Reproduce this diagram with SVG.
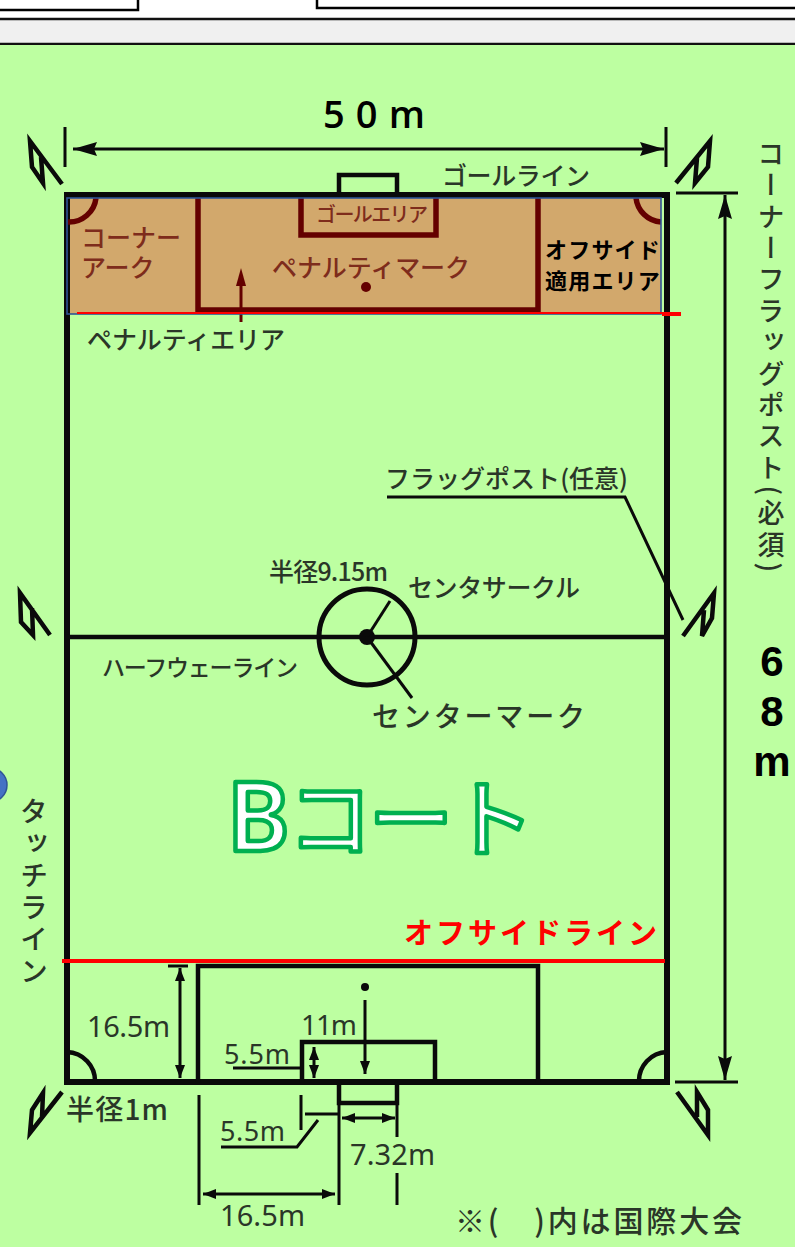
<svg xmlns="http://www.w3.org/2000/svg" width="795" height="1247" viewBox="0 0 795 1247">
<style>
text{font-family:"Noto Sans CJK JP","Noto Sans",sans-serif;fill:#2a3628;font-size:25px;font-weight:500}
.latin{font-family:"Noto Sans","Noto Sans CJK JP",sans-serif;font-weight:400}
.heavy{font-family:"Open Sans","Noto Sans CJK JP",sans-serif;font-weight:600;fill:#000}
.num{font-family:"Liberation Sans",sans-serif;font-weight:700;fill:#000;font-size:42px}
.brown{fill:#7e2c1c}
.tight{font-family:"Liberation Sans","Noto Sans CJK JP",sans-serif}
.off{font-weight:700;fill:#000;font-size:22px;letter-spacing:1.2px}
.red{font-weight:700;fill:#f00;font-size:29px}
.big{fill:#fff;stroke:#00b050;stroke-width:4.5;stroke-linejoin:round}
.v{writing-mode:vertical-rl}
.k{fill:none;stroke:#0a0a0a;stroke-linecap:butt;stroke-linejoin:miter}
.f{stroke-width:6}.m{stroke-width:4.5}.t{stroke-width:3}
.d{fill:none;stroke:#640000;stroke-width:5.5}
</style>
<defs>
<marker id="big" markerUnits="userSpaceOnUse" markerWidth="26" markerHeight="18" refX="24" refY="9" orient="auto-start-reverse"><path d="M0 2L24 9L0 16L3 9Z" fill="#0a0a0a"/></marker>
<marker id="tiny" markerUnits="userSpaceOnUse" markerWidth="14" markerHeight="12" refX="13" refY="6" orient="auto-start-reverse"><path d="M0 1L13 6L0 11Z" fill="#0a0a0a"/></marker>
</defs>

<rect id="page" width="795" height="1247" fill="#fff"/>
<g id="header">
<path d="M0 10H138V0" fill="none" stroke="#000" stroke-width="2.5"/>
<path d="M317 0V8H795" fill="none" stroke="#000" stroke-width="2.5"/>
<rect y="19" width="795" height="25" fill="#f0f0f0"/>
<path d="M0 19H795M0 44H795" stroke="#111" stroke-width="2.4"/>
</g>
<rect id="ground" y="45" width="795" height="1202" fill="#bdffa1"/>
<circle id="blue-dot" cx="-10" cy="785" r="17" fill="#4472c4" stroke="#2f5597" stroke-width="1.5"/>

<g id="offside-area">
<rect x="67" y="198" width="594" height="116" fill="#d2a86c"/>
</g>

<g id="field">
<path class="k f" d="M67 195H667V1082H67Z"/>
<path class="k m" d="M67 637H667"/>
<path class="k m" d="M339 194V175H397V194"/>
<path class="k m" d="M198 1082V966H538V1082"/>
<path class="k m" d="M302 1082V1042H435V1082"/>
<path class="k m" d="M339 1082V1103H397V1082"/>
<path class="k m" d="M67 1052A29 29 0 0 1 95 1082M667 1052A29 29 0 0 0 639 1082"/>
<circle class="k" stroke-width="5" cx="367" cy="637" r="48"/>
<circle cx="367" cy="637" r="8" fill="#0a0a0a"/>
<circle cx="365" cy="987" r="4" fill="#0a0a0a"/>
</g>

<g id="penalty-top">
<path class="d" d="M198 198V310H538V198"/>
<path class="d" d="M301 198V235H436V198"/>
<path class="d" d="M68 222A27 27 0 0 0 96 198M661 222A27 27 0 0 1 636 198"/>
<circle cx="366" cy="287" r="5" fill="#640000"/>
<path d="M241 322V285" stroke="#640000" stroke-width="3"/>
<path d="M241 268L246 286H236Z" fill="#640000"/>
</g>

<g id="flags">
<path class="k m" d="M62 184L30 141L32 167L43 183L41 157"/>
<path class="k m" d="M676 183L710 141L708 167L695 183L697 158"/>
<path class="k m" d="M50 635L20 593L21 622L33 635L32 608"/>
<path class="k m" d="M683 636L714 593L712 618L702 636L704 610"/>
<path class="k m" d="M62 1092L30 1133L32 1110L43 1093L42 1117"/>
<path class="k m" d="M677 1092L708 1135L708 1110L697 1092L697 1117"/>
</g>

<g id="connectors">
<path class="k t" d="M65 127V167M666 127V167"/>
<path class="k t" d="M73 149H664" marker-start="url(#big)" marker-end="url(#big)"/>
<path class="k t" d="M676 193H738M675 1082H738"/>
<path class="k t" d="M725 195V1080" marker-start="url(#big)" marker-end="url(#big)"/>
<path class="k t" d="M387 497H625L683 620"/>
<path class="k t" d="M367 637L390 601"/>
<path class="k t" d="M367 637L412 698"/>
<path class="k t" d="M168 966H188"/>
<path class="k t" d="M180 968V1078" marker-start="url(#tiny)" marker-end="url(#tiny)"/>
<path class="k t" d="M314 1047V1078" marker-start="url(#tiny)" marker-end="url(#tiny)"/>
<path class="k t" d="M365 1000V1074" marker-end="url(#tiny)"/>
<path class="k t" d="M233 1068H303"/>
<path class="k t" d="M199 1095V1205M339 1103V1205M397 1103V1137M397 1173V1205M301 1095V1130"/>
<path class="k t" d="M203 1194H335" marker-start="url(#tiny)" marker-end="url(#tiny)"/>
<path class="k t" d="M342 1118H395" marker-start="url(#tiny)" marker-end="url(#tiny)"/>
<path class="k t" d="M305 1114H338"/>
<path class="k t" d="M221 1147H297L318 1120"/>
</g>

<g id="overlay-lines">
<rect x="67" y="198" width="594" height="116" fill="none" stroke="#2f5597" stroke-width="1.6"/>
<path d="M77 313H662" stroke="#f00" stroke-width="2"/>
<path d="M662 314H681" stroke="#f00" stroke-width="4"/>
<path d="M62 961H665" stroke="#f00" stroke-width="4"/>
</g>

<g id="labels">
<text class="heavy" x="323" y="128" style="font-size:38px" textLength="102">5 0 m</text>
<text class="num" text-anchor="middle"><tspan x="772" y="676">6</tspan><tspan x="772" y="726">8</tspan><tspan x="772" y="776">m</tspan></text>
<text x="442" y="185" textLength="148">ゴールライン</text>
<text class="brown tight"><tspan x="81" y="247">コーナー</tspan><tspan x="81" y="277">アーク</tspan></text>
<text class="brown" x="272" y="277" textLength="198">ペナルティマーク</text>
<text class="brown" x="316" y="222" textLength="112" style="font-size:20px">ゴールエリア</text>
<text class="off"><tspan x="545" y="258">オフサイド</tspan><tspan x="545" y="289">適用エリア</tspan></text>
<text x="87" y="349" textLength="198">ペナルティエリア</text>
<text x="385" y="488" textLength="243">フラッグポスト(任意)</text>
<text x="269" y="581" textLength="119">半径9.15m</text>
<text x="408" y="597" textLength="172">センタサークル</text>
<text x="102" y="676" style="font-size:23px" textLength="196">ハーフウェーライン</text>
<text x="372" y="727" style="font-size:28px" textLength="213">センターマーク</text>
<text class="red" x="404" y="944" textLength="253">オフサイドライン</text>
<text class="big latin" x="227" y="851" style="font-size:95px;font-weight:600">B</text>
<text class="big" x="288" y="850" style="font-size:84px;font-weight:500" textLength="246">コート</text>
<text class="v" x="771" y="140" style="font-size:27px" textLength="432">コーナーフラッグポスト(必須)</text>
<text class="v" x="34" y="797" style="font-size:28px" textLength="188">タッチライン</text>
<text class="latin" x="87" y="1037" style="font-size:29px" textLength="83">16.5m</text>
<text class="latin" x="301" y="1035" style="font-size:28px" textLength="56">11m</text>
<text class="latin" x="224" y="1064" style="font-size:27px" textLength="66">5.5m</text>
<text x="66" y="1120" style="font-size:28px" textLength="102">半径1m</text>
<text class="latin" x="220" y="1141" style="font-size:27px" textLength="65">5.5m</text>
<text class="latin" x="350" y="1165" style="font-size:29px" textLength="85">7.32m</text>
<text class="latin" x="220" y="1226" style="font-size:29px" textLength="85">16.5m</text>
<text x="455" y="1232" style="font-size:30px" textLength="287">※(　)内は国際大会</text>
</g>
</svg>
